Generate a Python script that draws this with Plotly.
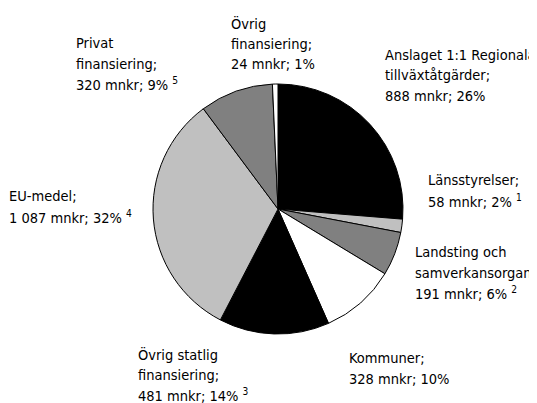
import plotly.graph_objects as go

# Finansiering, mnkr (medurs från kl. 12)
labels = ["Anslaget 1:1 Regionala tillväxtåtgärder", "Länsstyrelser", "Landsting och samverkansorgan",
          "Kommuner", "Övrig statlig finansiering", "EU-medel", "Privat finansiering", "Övrig finansiering"]
values = [888, 58, 191, 328, 481, 1087, 320, 24]
colors = ["#000000", "#c0c0c0", "#808080", "#ffffff", "#000000", "#c0c0c0", "#808080", "#ffffff"]

label_lines = [
    ["Anslaget 1:1 Regionala", "tillväxtåtgärder;", "888 mnkr; 26%"],
    ["Länsstyrelser;", "58 mnkr; 2% <sup>1</sup>"],
    ["Landsting och", "samverkansorgan;", "191 mnkr; 6% <sup>2</sup>"],
    ["Kommuner;", "328 mnkr; 10%"],
    ["Övrig statlig", "finansiering;", "481 mnkr; 14% <sup>3</sup>"],
    ["EU-medel;", "1 087 mnkr; 32% <sup>4</sup>"],
    ["Privat", "finansiering;", "320 mnkr; 9% <sup>5</sup>"],
    ["Övrig", "finansiering;", "24 mnkr; 1%"],
]
# left edge and first baseline of each label in page pixels
label_pos = [(385, 60), (428, 185), (415, 257), (349, 363), (138, 359), (9, 201), (76, 48), (231, 28)]
line_step = 20.5

W, H = 537, 403
OFF = 8  # page body margin

fig = go.Figure(go.Pie(
    labels=labels,
    values=values,
    sort=False,
    direction="clockwise",
    rotation=0,
    marker=dict(colors=colors, line=dict(color="#000000", width=1)),
    textinfo="none",
    hoverinfo="label+value+percent",
    domain=dict(x=[145 / W, 395 / W], y=[1 - 326 / H, 1 - 76 / H]),
))

for lines, (lx, by) in zip(label_lines, label_pos):
    for i, line in enumerate(lines):
        yc = by + i * line_step - 5 - OFF
        fig.add_annotation(
            text=line, x=(lx - OFF - 2) / W, y=1 - yc / H, xref="paper", yref="paper",
            xanchor="left", yanchor="middle", align="left", showarrow=False,
            font=dict(size=14.5, color="#000000", family="DejaVu Sans Condensed, Roboto, sans-serif"),
        )

fig.update_layout(
    width=W, height=H,
    margin=dict(l=0, r=0, t=0, b=0),
    showlegend=False,
    paper_bgcolor="white",
    plot_bgcolor="white",
)

fig.write_html("out.html")
